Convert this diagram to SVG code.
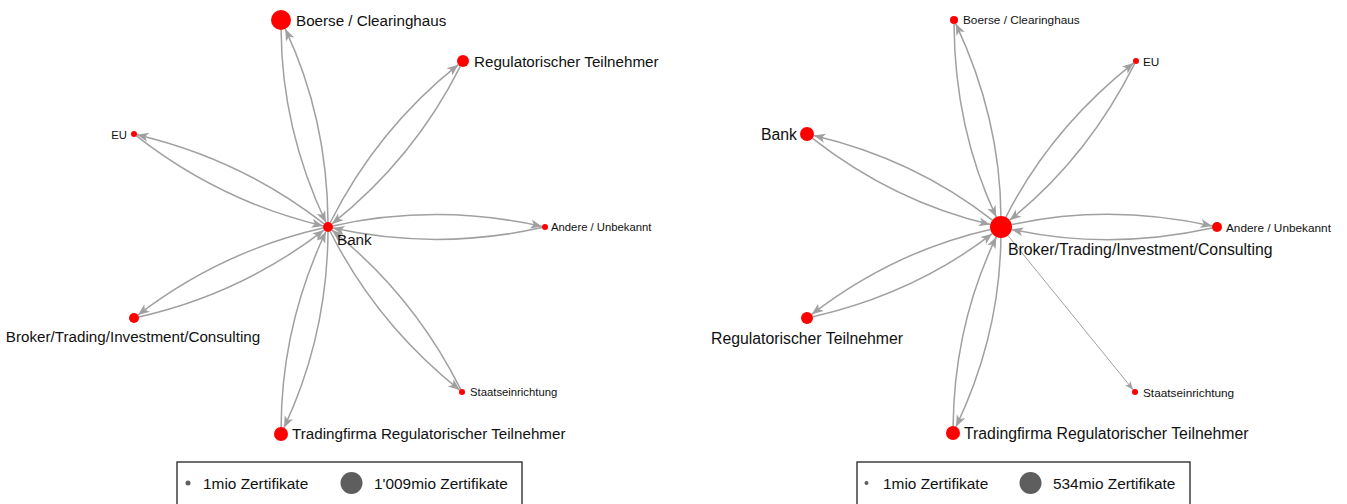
<svg xmlns="http://www.w3.org/2000/svg" width="1347" height="504" viewBox="0 0 1347 504">
  <defs>
    <marker id="arr" markerUnits="userSpaceOnUse" viewBox="-12 -5 13 10" refX="0" refY="0" markerWidth="13" markerHeight="10" orient="auto">
      <path d="M0,0 L-11.5,-4.6 L-8.5,0 L-11.5,4.6 Z" fill="#A0A0A0"/>
    </marker>
    <marker id="arr-thin" markerUnits="userSpaceOnUse" viewBox="-9 -4 10 8" refX="0" refY="0" markerWidth="10" markerHeight="8" orient="auto">
      <path d="M0,0 L-8.5,-3.4 L-6.3,0 L-8.5,3.4 Z" fill="#A0A0A0"/>
    </marker>
  </defs>
  <style>
    .edge { fill: none; stroke: #A0A0A0; stroke-width: 1.5; marker-end: url(#arr); }
    .edge.thin { stroke-width: 1; marker-end: url(#arr-thin); }
    .node { fill: #FF0000; }
    .lbl { font-family: "Liberation Sans", Arial, sans-serif; fill: #111; }
    .bigL { font-size: 15.2px; }
    .smallL { font-size: 11.3px; }
    .bigR { font-size: 15.8px; }
    .smallR { font-size: 11.8px; }
    .leg { font-family: "Liberation Sans", Arial, sans-serif; font-size: 15.4px; fill: #111; }
    .legbox { fill: #fff; stroke: #222; stroke-width: 1.3; }
    .legdot { fill: #5E5E5E; }
  </style>
  <rect width="1347" height="504" fill="#fff"/>

  <!-- Network 1: Bank as hub -->
  <g id="left-connectors">
    <path class="edge" d="M328,222 Q327.3,118.3 285.3,29.1"/>
    <path class="edge" d="M281.1,30 Q281.7,128.7 325.9,222.5"/>
    <path class="edge" d="M330.3,222.5 Q377.2,129.2 458.3,64.7"/>
    <path class="edge" d="M460.3,66.4 Q413.8,158.9 331.9,223.9"/>
    <path class="edge" d="M324.1,223.9 Q241.2,159.2 136.9,134.7"/>
    <path class="edge" d="M136.4,135.9 Q220.8,201.8 323.1,225.9"/>
    <path class="edge" d="M332.9,225.9 Q436.5,203.1 542.1,226.4"/>
    <path class="edge" d="M542.1,227.6 Q436.5,250.9 332.9,228.1"/>
    <path class="edge" d="M323.1,228.1 Q221,251.2 138,315"/>
    <path class="edge" d="M138.9,316.9 Q241,293.8 324,230.1"/>
    <path class="edge" d="M330.2,231.5 Q376.9,324.2 459.7,390.1"/>
    <path class="edge" d="M460.7,389.3 Q413.2,294.8 331.9,230.1"/>
    <path class="edge" d="M328,232 Q327.3,335.7 284,427.7"/>
    <path class="edge" d="M281.1,427 Q281.7,325.3 325.9,231.5"/>
  </g>
  <g id="left-bank">
    <circle class="node" cx="328" cy="227" r="5"/>
    <text class="lbl bigL" x="337" y="244.5">Bank</text>
  </g>
  <g id="left-boerse">
    <circle class="node" cx="281" cy="20" r="10"/>
    <text class="lbl bigL" x="296" y="26">Boerse / Clearinghaus</text>
  </g>
  <g id="left-regulatorisch">
    <circle class="node" cx="463" cy="61" r="6"/>
    <text class="lbl bigL" x="474" y="66.5">Regulatorischer Teilnehmer</text>
  </g>
  <g id="left-eu">
    <circle class="node" cx="134" cy="134" r="3"/>
    <text class="lbl smallL" x="127" y="138.5" text-anchor="end">EU</text>
  </g>
  <g id="left-andere">
    <circle class="node" cx="545" cy="227" r="3"/>
    <text class="lbl smallL" x="551" y="231">Andere / Unbekannt</text>
  </g>
  <g id="left-broker">
    <circle class="node" cx="134" cy="318" r="5"/>
    <text class="lbl bigL" x="133" y="341.5" text-anchor="middle">Broker/Trading/Investment/Consulting</text>
  </g>
  <g id="left-staat">
    <circle class="node" cx="462" cy="392" r="3"/>
    <text class="lbl smallL" x="470" y="396">Staatseinrichtung</text>
  </g>
  <g id="left-tradingfirma">
    <circle class="node" cx="281" cy="434" r="7"/>
    <text class="lbl bigL" x="292" y="439">Tradingfirma Regulatorischer Teilnehmer</text>
  </g>
  <g id="left-legend">
    <rect class="legbox" x="177" y="462" width="345" height="52"/>
    <circle class="legdot" cx="188" cy="483" r="2.5"/>
    <text class="leg" x="203" y="488.5">1mio Zertifikate</text>
    <circle class="legdot" cx="351.5" cy="483" r="11"/>
    <text class="leg" x="374" y="488.5">1'009mio Zertifikate</text>
  </g>

  <!-- Network 2: Broker/Trading/Investment/Consulting as hub -->
  <g id="right-connectors">
    <path class="edge" d="M1000.9,216 Q1000.3,118.3 955.7,23.6"/>
    <path class="edge" d="M954,24 Q954.7,128.7 996.3,217.1"/>
    <path class="edge" d="M1005.9,217.2 Q1050.2,129.2 1133.7,62.9"/>
    <path class="edge" d="M1134.7,63.7 Q1086.8,158.9 1009.6,220.2"/>
    <path class="edge" d="M992.3,220.2 Q914.2,159.2 813.8,135.6"/>
    <path class="edge" d="M812.5,138.3 Q893.8,201.8 990.3,224.5"/>
    <path class="edge" d="M1011.7,224.6 Q1109,203.2 1212.1,225.9"/>
    <path class="edge" d="M1212.1,228.1 Q1109,250.8 1011.7,229.4"/>
    <path class="edge" d="M990.3,229.4 Q894,251.2 811.8,314.3"/>
    <path class="edge" d="M812.9,316.7 Q914,293.8 992.3,233.7"/>
    <path class="edge thin" d="M1007.9,235.5 L1133.1,389.7"/>
    <path class="edge" d="M1000.9,238 Q999.7,335.3 956,426.7"/>
    <path class="edge" d="M953.1,426 Q954.3,324.7 996.3,236.9"/>
  </g>
  <g id="right-broker">
    <circle class="node" cx="1001" cy="227" r="11"/>
    <text class="lbl bigR" x="1008" y="255">Broker/Trading/Investment/Consulting</text>
  </g>
  <g id="right-boerse">
    <circle class="node" cx="954" cy="20" r="4"/>
    <text class="lbl smallR" x="963" y="24">Boerse / Clearinghaus</text>
  </g>
  <g id="right-eu">
    <circle class="node" cx="1136" cy="61" r="3"/>
    <text class="lbl smallR" x="1143" y="65.5">EU</text>
  </g>
  <g id="right-bank">
    <circle class="node" cx="807" cy="134" r="7"/>
    <text class="lbl bigR" x="797" y="139.5" text-anchor="end">Bank</text>
  </g>
  <g id="right-andere">
    <circle class="node" cx="1217" cy="227" r="5"/>
    <text class="lbl smallR" x="1226" y="231.5">Andere / Unbekannt</text>
  </g>
  <g id="right-regulatorisch">
    <circle class="node" cx="807" cy="318" r="6"/>
    <text class="lbl bigR" x="807" y="344" text-anchor="middle">Regulatorischer Teilnehmer</text>
  </g>
  <g id="right-staat">
    <circle class="node" cx="1135" cy="392" r="3"/>
    <text class="lbl smallR" x="1143" y="396.5">Staatseinrichtung</text>
  </g>
  <g id="right-tradingfirma">
    <circle class="node" cx="953" cy="433" r="7"/>
    <text class="lbl bigR" x="964" y="439">Tradingfirma Regulatorischer Teilnehmer</text>
  </g>
  <g id="right-legend">
    <rect class="legbox" x="857" y="462" width="333" height="52"/>
    <circle class="legdot" cx="866.5" cy="483" r="2"/>
    <text class="leg" x="883" y="488.5">1mio Zertifikate</text>
    <circle class="legdot" cx="1030.5" cy="483" r="11"/>
    <text class="leg" x="1053" y="488.5">534mio Zertifikate</text>
  </g>
</svg>
